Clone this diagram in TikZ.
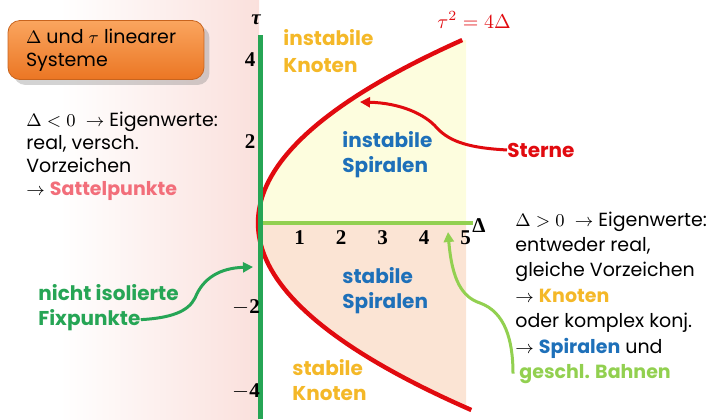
\documentclass[tikz,border=0pt]{standalone}
\usepackage{fontspec}
\setmainfont{Poppins}
\newfontfamily\numfont{Liberation Serif}
\usetikzlibrary{positioning,arrows.meta,shadows}

\definecolor{bgpink}{RGB}{250,224,220}
\definecolor{boxtop}{RGB}{250,165,95}
\definecolor{boxbot}{RGB}{235,118,35}
\definecolor{knotcol}{RGB}{244,184,40}
\definecolor{spircol}{RGB}{30,112,185}
\definecolor{curvered}{RGB}{225,10,15}
\definecolor{fixgreen}{RGB}{38,165,85}
\definecolor{bahngreen}{RGB}{146,208,80}
\definecolor{sattelcol}{RGB}{242,110,122}
\definecolor{upfill}{RGB}{253,253,222}
\definecolor{lowfill}{RGB}{251,228,212}

\tikzset{
  body/.style={font=\fontsize{9.5}{11.4}\selectfont, align=left, anchor=base west, inner sep=0pt},
  tag/.style={font=\bfseries\fontsize{10}{12.5}\selectfont, align=left, anchor=base west, inner sep=0pt},
  tick/.style={font=\numfont\bfseries\fontsize{10.5}{12}\selectfont, inner sep=0pt},
  pointer/.style={line width=1.5pt, -{Triangle[length=5pt,width=5pt]}},
  titlebox/.style={draw=boxbot!85!black, top color=boxtop, bottom color=boxbot, rounded corners=6pt,
    minimum width=98pt, minimum height=29.5pt, text width=80pt, align=flush left, inner xsep=4pt,
    font=\fontsize{9.5}{11.5}\selectfont, drop shadow={opacity=0.35}},
}

\begin{document}
\begin{tikzpicture}[x=0.5pt,y=-0.5pt]
\useasboundingbox (0,0) rectangle (727,419);
\shade[left color=white, right color=bgpink] (60,0) rectangle (259,419);

% regions inside tau^2 = 4 Delta
\fill[upfill] plot[domain=0:18.3, samples=40] ({259+0.61*\x*\x},{223-10*\x}) -- (466,40) -- (466,223) -- cycle;
\fill[lowfill] plot[domain=0:-18.5, samples=40] ({259+0.61*\x*\x},{223-10*\x}) -- (466,408) -- (466,223) -- cycle;

\draw[bahngreen, line width=2pt] (259,223) -- (473,223);
\draw[curvered, line width=2.2pt] plot[domain=-18.7:18.3, samples=80] ({258+0.61*\x*\x},{223-10*\x});
\draw[fixgreen, line width=2.5pt] (260.5,35) -- (260.5,419);

\node[titlebox] (titel) at (106,50) {$\Delta$ und $\tau$ linearer\\Systeme};

% axis labels
\node[tick] (tau) at (256,20) {\itshape τ};
\node[tick] (delta) at (479,226) {Δ};
\node[tick] (t4) at (250,60) {4};
\node[tick] (t2) at (250,142) {2};
\node[tick] (tm2) at (246,307) {$-$2};
\node[tick] (tm4) at (246,391) {$-$4};
\foreach \d in {1,...,5}
  \node[tick] (d\d) at ({258+41.5*\d},238) {\d};

\node[curvered, inner sep=0pt, anchor=base west, font=\fontsize{10}{12}\selectfont] (formel) at (437,28) {$\tau^2 = 4\Delta$};

% region names (anchored at the last baseline)
\node[tag, text=knotcol, font=\bfseries\fontsize{10}{13.5}\selectfont] (ik) at (283,72) {instabile\\Knoten};
\node[tag, text=spircol] (isp) at (342,172) {instabile\\Spiralen};
\node[tag, text=spircol] (ssp) at (342,308) {stabile\\Spiralen};
\node[tag, text=knotcol] (sk) at (292,400) {stabile\\Knoten};
\node[tag, text=curvered] (sterne) at (507,157) {Sterne};
\node[tag, text=fixgreen] (fixa) at (38,300) {nicht isolierte};
\node[tag, text=fixgreen] (fixb) at (38,325) {Fixpunkte};

% side texts
\node[body] (neg) at (26,195) {$\Delta<0$ \ $\rightarrow$ Eigenwerte:\\real, versch.\\Vorzeichen\\$\rightarrow$ \textcolor{sattelcol}{\bfseries Sattelpunkte}};
\node[body, font=\fontsize{9.5}{12.7}\selectfont] (pos) at (515,353) {$\Delta>0$ \ $\rightarrow$ Eigenwerte:\\entweder real,\\gleiche Vorzeichen\\$\rightarrow$ \textcolor{knotcol}{\bfseries Knoten}\\oder komplex konj.\\$\rightarrow$ \textcolor{spircol}{\bfseries Spiralen} und};
\node[body, font=\bfseries\fontsize{9.5}{12.7}\selectfont, text=bahngreen] (bahnen) at (519,378) {geschl. Bahnen};

% pointers
\coordinate (sterntip) at (360,102);
\coordinate (fixtip) at (253,267);
\coordinate (bahntip) at (448,232);
\draw[pointer, curvered] (sterne.west) .. controls (470,148) and (450,142) .. (437,128)
  .. controls (425,114) and (400,103) .. (sterntip);
\draw[pointer, fixgreen] (fixb.east) .. controls (170,318) and (188,312) .. (195,298)
  .. controls (203,278) and (220,268) .. (fixtip);
\draw[pointer, bahngreen] ([xshift=-3pt]bahnen.west) .. controls (513,340) and (505,312) .. (480,303)
  .. controls (462,297) and (452,280) .. (bahntip);
\end{tikzpicture}
\end{document}
